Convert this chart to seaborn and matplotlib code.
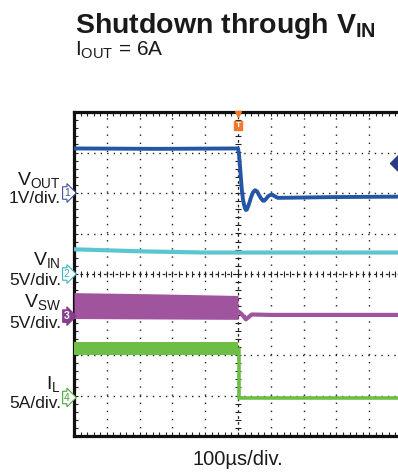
import numpy as np
import pandas as pd
import matplotlib
matplotlib.use("Agg")
import matplotlib.pyplot as plt
import matplotlib.transforms as mtransforms
import seaborn as sns

# ---------------- data (time and amplitude in scope divisions) ----------------
vout_t = [-5.0, -2.5, 0.0, 0.03, 0.06, 0.09, 0.12, 0.15, 0.18, 0.21, 0.24, 0.27, 0.30, 0.34, 0.40,
          0.46, 0.52, 0.58, 0.64, 0.70, 0.76, 0.80, 0.85, 0.92, 0.98, 1.04, 1.10, 1.16, 1.22, 3.0, 5.0]
vout_v = [3.10, 3.09, 3.10, 2.95, 2.67, 2.35, 2.05, 1.85, 1.73, 1.63, 1.58, 1.59, 1.65, 1.74, 1.90,
          2.02, 2.07, 2.04, 1.95, 1.87, 1.81, 1.81, 1.85, 1.92, 1.95, 1.96, 1.93, 1.90, 1.88, 1.90, 1.91]

vin_t = [-5.0, -3.0, -1.0, 5.0]
vin_v = [0.61, 0.56, 0.53, 0.53]

vsw_band_t = [-5.0, -2.5, 0.0]
vsw_top = [-0.46, -0.49, -0.53]
vsw_bot = [-1.10, -1.11, -1.12]
vsw_after_t = [0.0, 0.10, 0.24, 0.42, 1.0, 5.0]
vsw_after_v = [-0.92, -0.98, -1.12, -1.00, -1.01, -1.01]

il_band_t = [-5.0, 0.0]
il_top = [-1.69, -1.69]
il_bot = [-1.99, -1.99]
il_after_t = [0.03, 0.03, 5.0]
il_after_v = [-1.84, -3.07, -3.07]

ch_levels = [2.0, 0.0, -1.04, -3.05]
ch_names = ["1", "2", "3", "4"]
ch_colors = ["#3f4fa0", "#3bb5c0", "#8a3d8c", "#4aa83a"]
ch_filled = [False, False, True, False]

ref_marker_level = 2.74

# ---------------- styling ----------------
sns.set_theme(style="white")
plt.rcParams["font.family"] = ["Liberation Sans", "DejaVu Sans"]
plt.rcParams["mathtext.fontset"] = "custom"
plt.rcParams["mathtext.rm"] = "Liberation Sans"
plt.rcParams["mathtext.it"] = "Liberation Sans:italic"
plt.rcParams["mathtext.bf"] = "Liberation Sans:bold"

C_VOUT = "#2456a6"
C_VIN = "#5cc6d0"
C_VSW = "#a0549e"
C_IL = "#6cbf44"
C_TRIG = "#f07a2c"

W, H = 398, 473
fig = plt.figure(figsize=(W / 100, H / 100), dpi=100)
fig.patch.set_facecolor("white")

left_px, right_px, top_px, bot_px = 74, 402, 112, 436
ax = fig.add_axes([left_px / W, 1 - bot_px / H, (right_px - left_px) / W, (bot_px - top_px) / H])
ax.set_xlim(-5, 5)
ax.set_ylim(-4, 4)
ax.set_facecolor("white")

# grid
ax.set_xticks(np.arange(-5, 6, 1))
ax.set_yticks(np.arange(-4, 5, 1))
ax.set_xticks(np.arange(-5, 5.01, 0.2), minor=True)
ax.set_yticks(np.arange(-4, 4.01, 0.2), minor=True)
ax.set_xticklabels([])
ax.set_yticklabels([])
ax.grid(False)
for xv in np.arange(-4, 5, 1):
    if xv != 0:
        ax.axvline(xv, color="#222222", lw=1.0, ls=(0, (1, 4.85)), zorder=1)
for yv in np.arange(-3, 4, 1):
    if yv != 0:
        ax.axhline(yv, color="#222222", lw=1.0, ls=(0, (1, 3.7)), zorder=1)
# centre lines with crossing ticks
ax.axhline(0, color="#222222", lw=0.9, ls=(0, (2.2, 2.5)), zorder=1)
ax.axvline(0, color="#222222", lw=0.9, ls=(0, (2.2, 2.5)), zorder=1)
mx = np.arange(-5, 5.01, 0.2)
my = np.arange(-4, 4.01, 0.2)
ax.plot(mx, np.zeros_like(mx), ls="", marker="|", ms=4, mew=0.8, color="#222222", zorder=1)
ax.plot(np.zeros_like(my), my, ls="", marker="_", ms=4, mew=0.8, color="#222222", zorder=1)

ax.tick_params(which="both", direction="in", length=3, width=0.8, color="#222222",
               top=True, bottom=True, left=True, right=False)
for s in ["left", "top", "bottom"]:
    ax.spines[s].set_linewidth(2.3)
    ax.spines[s].set_color("#111111")
ax.spines["right"].set_visible(False)

# ---------------- traces ----------------
sns.lineplot(x=vin_t, y=vin_v, ax=ax, color=C_VIN, lw=3.0, estimator=None, sort=False, zorder=3)
sns.lineplot(x=vout_t, y=vout_v, ax=ax, color=C_VOUT, lw=2.8, estimator=None, sort=False, zorder=4)

ax.fill_between(vsw_band_t, vsw_bot, vsw_top, color=C_VSW, lw=0, zorder=3)
sns.lineplot(x=vsw_after_t, y=vsw_after_v, ax=ax, color=C_VSW, lw=3.0, estimator=None, sort=False, zorder=3)

ax.fill_between(il_band_t, il_bot, il_top, color=C_IL, lw=0, zorder=3)
sns.lineplot(x=il_after_t, y=il_after_v, ax=ax, color=C_IL, lw=2.6, estimator=None, sort=False, zorder=3)

# reference marker at right edge
ax.plot([4.88], [ref_marker_level], marker="D", ms=8, color="#2d3c80", clip_on=False, zorder=6)

# trigger marker
ax.plot([0], [3.95], marker="v", ms=5, color=C_TRIG, clip_on=False, zorder=6)
ax.text(0, 3.67, "T", ha="center", va="center", fontsize=6, color="white", fontweight="bold",
        bbox=dict(boxstyle="square,pad=0.12", fc=C_TRIG, ec=C_TRIG), zorder=6, clip_on=False)

# channel markers
trans = mtransforms.blended_transform_factory(ax.transAxes, ax.transData)
for lvl, nm, col, filled in zip(ch_levels, ch_names, ch_colors, ch_filled):
    ax.text(-0.022, lvl, nm, transform=trans, ha="center", va="center", fontsize=7.5,
            color="white" if filled else col, fontweight="bold" if filled else "normal",
            bbox=dict(boxstyle="rarrow,pad=0.12", fc=col if filled else "white", ec=col, lw=0.8),
            clip_on=False, zorder=6)

# ---------------- texts ----------------
def ftext(xp, yp, s, **kw):
    fig.text(xp / W, 1 - yp / H, s, **kw)

ftext(75, 33, r"Shutdown through $\mathbf{V_{IN}}$", fontsize=20.5, fontweight="bold",
      va="baseline", ha="left", color="#1a1a1a")
ftext(75, 56, r"$\mathrm{I_{OUT}}$ = 6A", fontsize=15, va="baseline", ha="left", color="#1a1a1a")

sub_kw = dict(fontsize=14, va="baseline", ha="right", color="#1a1a1a")
lab_kw = dict(fontsize=12.5, va="baseline", ha="right", color="#1a1a1a")
ftext(61, 185, r"$\mathrm{V_{OUT}}$", **sub_kw)
ftext(61, 203, "1V/div.", **lab_kw)
ftext(61, 265, r"$\mathrm{V_{IN}}$", **sub_kw)
ftext(61, 285, "5V/div.", **lab_kw)
ftext(61, 307, r"$\mathrm{V_{SW}}$", **sub_kw)
ftext(61, 328, "5V/div.", **lab_kw)
ftext(61, 389, r"$\mathrm{I_{L}}$", **sub_kw)
ftext(61, 408, "5A/div.", **lab_kw)

ftext(238, 465, "100µs/div.", fontsize=14.5, va="baseline", ha="center", color="#1a1a1a")

fig.savefig("out.png", dpi=100, facecolor="white")
